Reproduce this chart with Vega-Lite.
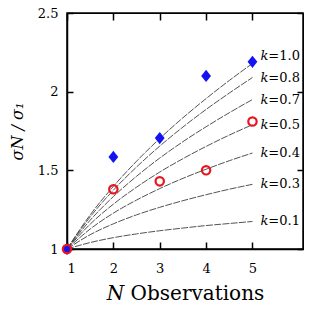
{
  "$schema": "https://vega.github.io/schema/vega-lite/v6.json",
  "autosize": {"type": "none"},
  "padding": {"left": 67, "top": 13, "right": 6, "bottom": 66},
  "width": 236,
  "height": 236,
  "background": "white",
  "config": {
    "view": {"stroke": "black", "strokeWidth": 1.5},
    "font": "DejaVu Serif"
  },
  "datasets": {
    "curves": [
      {"k": "1.0", "N": 1, "r": 1}, {"k": "1.0", "N": 1.5, "r": 1.217}, {"k": "1.0", "N": 2, "r": 1.398}, {"k": "1.0", "N": 2.5, "r": 1.558}, {"k": "1.0", "N": 3, "r": 1.702}, {"k": "1.0", "N": 3.5, "r": 1.834}, {"k": "1.0", "N": 4, "r": 1.956}, {"k": "1.0", "N": 4.5, "r": 2.071}, {"k": "1.0", "N": 5, "r": 2.179},
      {"k": "0.8", "N": 1, "r": 1}, {"k": "0.8", "N": 1.5, "r": 1.204}, {"k": "0.8", "N": 2, "r": 1.374}, {"k": "0.8", "N": 2.5, "r": 1.521}, {"k": "0.8", "N": 3, "r": 1.654}, {"k": "0.8", "N": 3.5, "r": 1.775}, {"k": "0.8", "N": 4, "r": 1.887}, {"k": "0.8", "N": 4.5, "r": 1.991}, {"k": "0.8", "N": 5, "r": 2.09},
      {"k": "0.7", "N": 1, "r": 1}, {"k": "0.7", "N": 1.5, "r": 1.183}, {"k": "0.7", "N": 2, "r": 1.333}, {"k": "0.7", "N": 2.5, "r": 1.462}, {"k": "0.7", "N": 3, "r": 1.578}, {"k": "0.7", "N": 3.5, "r": 1.682}, {"k": "0.7", "N": 4, "r": 1.777}, {"k": "0.7", "N": 4.5, "r": 1.866}, {"k": "0.7", "N": 5, "r": 1.95},
      {"k": "0.5", "N": 1, "r": 1}, {"k": "0.5", "N": 1.5, "r": 1.158}, {"k": "0.5", "N": 2, "r": 1.285}, {"k": "0.5", "N": 2.5, "r": 1.393}, {"k": "0.5", "N": 3, "r": 1.489}, {"k": "0.5", "N": 3.5, "r": 1.574}, {"k": "0.5", "N": 4, "r": 1.652}, {"k": "0.5", "N": 4.5, "r": 1.724}, {"k": "0.5", "N": 5, "r": 1.79},
      {"k": "0.4", "N": 1, "r": 1}, {"k": "0.4", "N": 1.5, "r": 1.127}, {"k": "0.4", "N": 2, "r": 1.228}, {"k": "0.4", "N": 2.5, "r": 1.311}, {"k": "0.4", "N": 3, "r": 1.384}, {"k": "0.4", "N": 3.5, "r": 1.449}, {"k": "0.4", "N": 4, "r": 1.507}, {"k": "0.4", "N": 4.5, "r": 1.561}, {"k": "0.4", "N": 5, "r": 1.61},
      {"k": "0.3", "N": 1, "r": 1}, {"k": "0.3", "N": 1.5, "r": 1.091}, {"k": "0.3", "N": 2, "r": 1.16}, {"k": "0.3", "N": 2.5, "r": 1.217}, {"k": "0.3", "N": 3, "r": 1.265}, {"k": "0.3", "N": 3.5, "r": 1.307}, {"k": "0.3", "N": 4, "r": 1.345}, {"k": "0.3", "N": 4.5, "r": 1.38}, {"k": "0.3", "N": 5, "r": 1.411},
      {"k": "0.1", "N": 1, "r": 1}, {"k": "0.1", "N": 1.5, "r": 1.041}, {"k": "0.1", "N": 2, "r": 1.072}, {"k": "0.1", "N": 2.5, "r": 1.096}, {"k": "0.1", "N": 3, "r": 1.116}, {"k": "0.1", "N": 3.5, "r": 1.133}, {"k": "0.1", "N": 4, "r": 1.149}, {"k": "0.1", "N": 4.5, "r": 1.162}, {"k": "0.1", "N": 5, "r": 1.175}
    ],
    "openCircles": [
      {"N": 1, "r": 1}, {"N": 2, "r": 1.38}, {"N": 3, "r": 1.43}, {"N": 4, "r": 1.5}, {"N": 5, "r": 1.81}
    ],
    "diamonds": [
      {"N": 1, "r": 1}, {"N": 2, "r": 1.585}, {"N": 3, "r": 1.705}, {"N": 4, "r": 2.1}, {"N": 5, "r": 2.19}
    ]
  },
  "layer": [
    {
      "data": {"name": "curves"},
      "mark": {"type": "line", "color": "#404040", "strokeWidth": 0.9, "strokeDash": [7, 1.3], "interpolate": "monotone"},
      "encoding": {
        "x": {
          "field": "N", "type": "quantitative",
          "scale": {"domain": [1, 6.09], "nice": false, "zero": false},
          "axis": {
            "orient": "bottom", "values": [1, 2, 3, 4, 5], "format": "~g", "grid": false,
            "domainColor": "black", "domainWidth": 1.5,
            "ticks": false, "labelPadding": 13,
            "labelFont": "DejaVu Serif", "labelFontSize": 13, "labelColor": "black",
            "title": "𝑁 Observations", "titleFont": "DejaVu Serif", "titleFontWeight": "normal",
            "titleColor": "black", "titleFontSize": 20, "titlePadding": 8
          }
        },
        "y": {
          "field": "r", "type": "quantitative",
          "scale": {"domain": [1, 2.5], "nice": false, "zero": false},
          "axis": {
            "orient": "left", "values": [1, 1.5, 2, 2.5], "format": "~g", "grid": false,
            "domainColor": "black", "domainWidth": 1.5,
            "ticks": false, "labelPadding": 9,
            "labelFont": "DejaVu Serif", "labelFontSize": 13, "labelColor": "black",
            "title": "σN / σ₁", "titleFont": "DejaVu Serif", "titleFontWeight": "normal",
            "titleColor": "black", "titleFontSize": 16, "titleFontStyle": "italic", "titlePadding": 12
          }
        },
        "detail": {"field": "k"}
      }
    },
    {
      "data": {"name": "curves"},
      "transform": [
        {"filter": "datum.N === 5 && datum.k !== '1.0'"},
        {"calculate": "'𝑘=' + datum.k", "as": "lbl"}
      ],
      "mark": {"type": "text", "align": "left", "baseline": "middle", "dx": 8, "fontSize": 13, "font": "DejaVu Serif", "color": "black"},
      "encoding": {
        "x": {"field": "N", "type": "quantitative", "scale": {"domain": [1, 6.09], "nice": false, "zero": false}, "axis": null},
        "y": {"field": "r", "type": "quantitative", "scale": {"domain": [1, 2.5], "nice": false, "zero": false}, "axis": null},
        "text": {"field": "lbl"}
      }
    },
    {
      "data": {"name": "curves"},
      "transform": [
        {"filter": "datum.N === 5 && datum.k === '1.0'"},
        {"calculate": "'𝑘=' + datum.k", "as": "lbl"}
      ],
      "mark": {"type": "text", "align": "left", "baseline": "middle", "dx": 8, "dy": -8, "fontSize": 13, "font": "DejaVu Serif", "color": "black"},
      "encoding": {
        "x": {"field": "N", "type": "quantitative", "scale": {"domain": [1, 6.09], "nice": false, "zero": false}, "axis": null},
        "y": {"field": "r", "type": "quantitative", "scale": {"domain": [1, 2.5], "nice": false, "zero": false}, "axis": null},
        "text": {"field": "lbl"}
      }
    },
    {
      "data": {"name": "diamonds"},
      "mark": {"type": "point", "shape": "M-0.8,0L0,-1L0.8,0L0,1Z", "filled": true, "size": 150, "color": "#1414f0", "opacity": 1},
      "encoding": {
        "x": {"field": "N", "type": "quantitative", "scale": {"domain": [1, 6.09], "nice": false, "zero": false},
          "axis": {"orient": "top", "offset": -236, "values": [1, 2, 3, 4, 5], "grid": false, "labels": false,
            "domainColor": "black", "tickSize": 7, "tickWidth": 1.5, "tickColor": "#000000", "title": null}},
        "y": {"field": "r", "type": "quantitative", "scale": {"domain": [1, 2.5], "nice": false, "zero": false},
          "axis": {"orient": "right", "offset": -236, "values": [1, 1.5, 2, 2.5], "grid": false, "labels": false,
            "domainColor": "black", "tickSize": 6, "tickWidth": 1.5, "tickColor": "#000000", "title": null}}
      }
    },
    {
      "data": {"name": "openCircles"},
      "mark": {"type": "point", "shape": "circle", "filled": false, "size": 70, "strokeWidth": 2.2, "color": "#e8141e", "opacity": 1},
      "encoding": {
        "x": {"field": "N", "type": "quantitative", "scale": {"domain": [1, 6.09], "nice": false, "zero": false},
          "axis": {"orient": "bottom", "offset": -236, "values": [1, 2, 3, 4, 5], "grid": false, "labels": false,
            "domainColor": "black", "tickSize": 7, "tickWidth": 1.5, "tickColor": "#000000", "title": null}},
        "y": {"field": "r", "type": "quantitative", "scale": {"domain": [1, 2.5], "nice": false, "zero": false},
          "axis": {"orient": "left", "offset": -236, "values": [1, 1.5, 2, 2.5], "grid": false, "labels": false,
            "domainColor": "black", "tickSize": 6, "tickWidth": 1.5, "tickColor": "#000000", "title": null}}
      }
    }
  ],
  "resolve": {
    "scale": {"x": "independent", "y": "independent"},
    "axis": {"x": "independent", "y": "independent"}
  }
}
